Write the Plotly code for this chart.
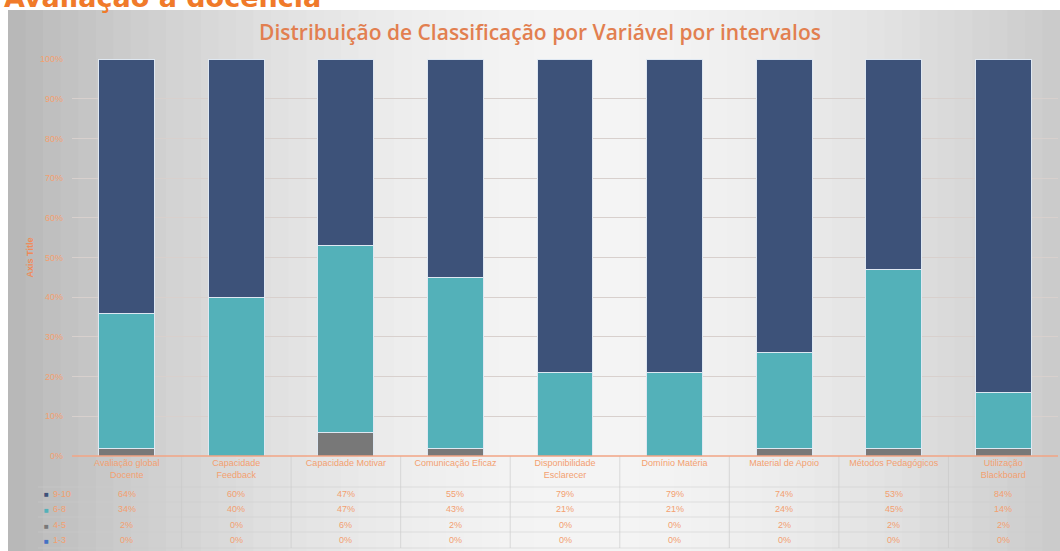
import plotly.graph_objects as go

categories = ["Avaliação global<br>Docente", "Capacidade<br>Feedback", "Capacidade Motivar",
              "Comunicação Eficaz", "Disponibilidade<br>Esclarecer", "Domínio Matéria",
              "Material de Apoio", "Métodos Pedagógicos", "Utilização<br>Blackboard"]
series_names = ["9-10", "6-8", "4-5", "1-3"]
s_9_10 = [64, 60, 47, 55, 79, 79, 74, 53, 84]
s_6_8 = [34, 40, 47, 43, 21, 21, 24, 45, 14]
s_4_5 = [2, 0, 6, 2, 0, 0, 2, 2, 2]
s_1_3 = [0, 0, 0, 0, 0, 0, 0, 0, 0]
y_ticks = [0, 10, 20, 30, 40, 50, 60, 70, 80, 90, 100]

colors = {"9-10": "#3d5279", "6-8": "#53b1b9", "4-5": "#787878", "1-3": "#4472c4"}
values = {"9-10": s_9_10, "6-8": s_6_8, "4-5": s_4_5, "1-3": s_1_3}

W, H = 1060, 551
L, R, T, B = 72, 2, 59, 95
PH = H - T - B

def ppx(ypx):
    return (H - B - ypx) / PH

def xpx(xp):
    return (xp - L) / (W - L - R)

fig = go.Figure()
for name in ["1-3", "4-5", "6-8", "9-10"]:
    fig.add_trace(go.Bar(x=categories, y=values[name], name=name,
                         marker=dict(color=colors[name], line=dict(color="#dfe8f2", width=1)),
                         width=0.51, showlegend=False))

shapes = []
# gradient background
N = 60
x0p, x1p = 8, W
for i in range(N):
    a = x0p + (x1p - x0p) * i / N
    b = x0p + (x1p - x0p) * (i + 1) / N + 1
    t = (i + 0.5) / N
    d = abs(t - 0.55) / 0.55
    v = int(245 - 62 * d ** 1.8)
    c = f"rgb({v},{v},{v})"
    shapes.append(dict(type="rect", xref="paper", yref="paper",
                       x0=xpx(a), x1=xpx(b), y0=ppx(H), y1=ppx(10),
                       fillcolor=c, line=dict(width=0), layer="below"))

# table grid lines
for k in range(1, 9):
    xv = xpx(L + k * (W - L - R) / 9)
    shapes.append(dict(type="line", xref="paper", yref="paper", x0=xv, x1=xv,
                       y0=ppx(456), y1=ppx(548), line=dict(color="rgba(200,200,200,0.6)", width=1)))
for yy in [487, 502, 517, 532, 548]:
    shapes.append(dict(type="line", xref="paper", yref="paper", x0=xpx(38), x1=xpx(1058),
                       y0=ppx(yy), y1=ppx(yy), line=dict(color="rgba(205,205,205,0.5)", width=1)))
shapes.append(dict(type="line", xref="paper", yref="paper", x0=0, x1=1,
                   y0=0, y1=0, line=dict(color="#f2a585", width=1.5)))

annotations = []
annotations.append(dict(text="<b>Avaliação à docência</b>", xref="paper", yref="paper",
                        x=xpx(2), y=ppx(15), xanchor="left", yanchor="bottom",
                        showarrow=False, font=dict(size=27, color="#f07a2a", family="DejaVu Sans")))
row_y = [494, 509, 525, 540]
for ry, name in zip(row_y, series_names):
    annotations.append(dict(text="■", xref="paper", yref="paper", x=xpx(46), y=ppx(ry),
                            xanchor="center", yanchor="middle", showarrow=False,
                            font=dict(size=8, color=colors[name])))
    annotations.append(dict(text=name, xref="paper", yref="paper", x=xpx(51), y=ppx(ry),
                            xanchor="left", yanchor="middle", showarrow=False,
                            font=dict(size=9, color="#f3a070", family="Liberation Sans")))
    for c, v in zip(categories, values[name]):
        annotations.append(dict(text=f"{v}%", xref="x", yref="paper", x=c, y=ppx(ry),
                                xanchor="center", yanchor="middle", showarrow=False,
                                font=dict(size=9, color="#f3a070", family="Liberation Sans")))

fig.update_layout(
    width=W, height=H,
    margin=dict(l=L, r=R, t=T, b=B),
    paper_bgcolor="white", plot_bgcolor="rgba(0,0,0,0)",
    barmode="stack", bargap=0.49,
    title=dict(text="Distribuição de Classificação por Variável por intervalos",
               x=540 / W, xref="container", xanchor="center", y=1 - 33 / H, yanchor="middle",
               font=dict(size=21, color="#e27f50", family="Open Sans", weight=600)),
    xaxis=dict(tickfont=dict(size=9, color="#f3a070", family="Liberation Sans"),
               showgrid=False, ticks="", showline=False, tickangle=0),
    yaxis=dict(range=[0, 100], tickvals=y_ticks, ticktext=[f"{v}%" for v in y_ticks],
               tickfont=dict(size=9, color="#f3a070", family="Liberation Sans"),
               gridcolor="#d8d0cd", gridwidth=1, zeroline=False, ticks="",
               ticklabelstandoff=8,
               title=dict(text="<b>Axis Title</b>", standoff=4,
                          font=dict(size=9, color="#f08a58", family="Liberation Sans"))),
    shapes=shapes, annotations=annotations,
)
fig.write_html("out.html", config={"displayModeBar": False},
               post_script="document.body.style.margin='0';document.body.style.overflow='hidden';")
